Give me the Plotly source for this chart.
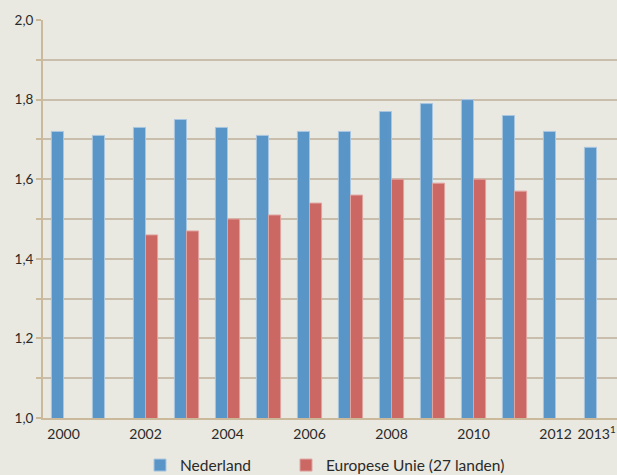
import plotly.graph_objects as go

# Jaartallen en waarden
years = ["2000", "2001", "2002", "2003", "2004", "2005", "2006",
         "2007", "2008", "2009", "2010", "2011", "2012", "2013"]
nederland = [1.72, 1.71, 1.73, 1.75, 1.73, 1.71, 1.72,
             1.72, 1.77, 1.79, 1.80, 1.76, 1.72, 1.68]
eu27 = [None, None, 1.46, 1.47, 1.50, 1.51, 1.54,
        1.56, 1.60, 1.59, 1.60, 1.57, None, None]

x_tickvals = ["2000", "2002", "2004", "2006", "2008", "2010", "2012", "2013"]
x_ticktext = ["2000", "2002", "2004", "2006", "2008", "2010", "2012", "2013<sup>1</sup>"]

y_tickvals = [1.0, 1.2, 1.4, 1.6, 1.8, 2.0]
y_ticktext = ["1,0", "1,2", "1,4", "1,6", "1,8", "2,0"]

BG = "#E9E8E1"
GRID = "#C9BEAB"
AXIS = "#CBB99C"
TEXT = "#2A2A2A"
FONT = "Lato, 'Open Sans', sans-serif"

fig = go.Figure()
fig.add_trace(go.Bar(
    x=years, y=nederland, name="Nederland", legend="legend",
    marker=dict(color="#5A95C8", line=dict(color="#A9C6E0", width=1)),
))
fig.add_trace(go.Bar(
    x=years, y=eu27, name="Europese Unie (27 landen)", legend="legend2",
    marker=dict(color="#CB6864", line=dict(color="#E0A4A0", width=1)),
))

legend_style = dict(
    orientation="h", yref="container", y=0.02, yanchor="middle",
    xref="container", xanchor="left",
    font=dict(size=15.5, color=TEXT), bgcolor="rgba(0,0,0,0)",
    itemclick=False, itemdoubleclick=False,
)

fig.update_layout(
    width=617, height=475,
    paper_bgcolor=BG, plot_bgcolor=BG,
    margin=dict(l=43, r=0, t=20, b=57),
    barmode="group", bargap=0.41, bargroupgap=0,
    separators=",.",
    font=dict(family=FONT, size=13, color=TEXT),
    showlegend=True,
    legend=dict(x=140 / 617, **legend_style),
    legend2=dict(x=286 / 617, **legend_style),
)
fig.update_xaxes(
    type="category",
    tickmode="array", tickvals=x_tickvals, ticktext=x_ticktext,
    showgrid=False, ticks="", ticklabelstandoff=2,
    showline=True, linecolor=AXIS, linewidth=2,
    tickfont=dict(size=14, color=TEXT),
)
fig.update_yaxes(
    range=[1.0, 2.0],
    tickmode="array", tickvals=y_tickvals, ticktext=y_ticktext,
    showgrid=True, gridcolor=GRID, gridwidth=1.5,
    ticks="outside", ticklen=5, tickcolor=AXIS, tickwidth=1.5,
    minor=dict(dtick=0.1, tick0=1.0, showgrid=True, gridcolor=GRID, gridwidth=1.5,
               ticks="outside", ticklen=5, tickcolor=AXIS, tickwidth=1.5),
    showline=True, linecolor=AXIS, linewidth=2,
    zeroline=False,
    tickfont=dict(size=13.5, color=TEXT),
)

fig.write_html("out.html")
